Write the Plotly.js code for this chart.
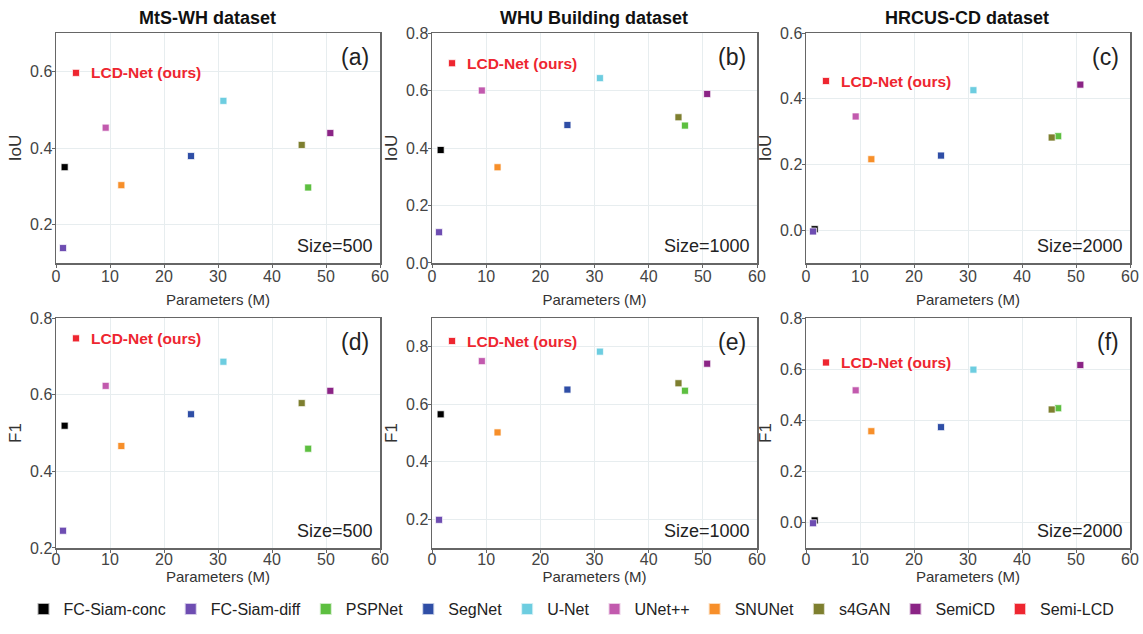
<!DOCTYPE html>
<html>
<head>
<meta charset="utf-8">
<script src="https://cdn.plot.ly/plotly-3.0.1.min.js"></script>
<style>html,body{margin:0;padding:0;background:#fff;}#chart{width:1143px;height:634px;}</style>
</head>
<body>
<div id="chart"></div>
<script>
// ---- data ----
const models = ['FC-Siam-conc','FC-Siam-diff','PSPNet','SegNet','U-Net','UNet++','SNUNet','s4GAN','SemiCD','Semi-LCD'];
const colors = ['#000000','#6e4db2','#5dbf40','#2f4ea6','#6dcde0','#c25aae','#f78f2a','#7e7f2f','#8b2486','#ee2630'];
const params = [1.6, 1.3, 46.7, 25.0, 31.0, 9.2, 12.1, 45.5, 50.8, 3.7];
const iouMtS   = [0.350, 0.139, 0.297, 0.379, 0.523, 0.453, 0.303, 0.408, 0.439, 0.596];
const iouWHU   = [0.393, 0.107, 0.478, 0.480, 0.643, 0.600, 0.333, 0.507, 0.588, 0.695];
const iouHRCUS = [0.003, -0.004, 0.286, 0.227, 0.426, 0.346, 0.216, 0.282, 0.443, 0.454];
const f1MtS    = [0.519, 0.245, 0.459, 0.549, 0.686, 0.623, 0.466, 0.578, 0.610, 0.747];
const f1WHU    = [0.565, 0.198, 0.647, 0.651, 0.783, 0.750, 0.502, 0.673, 0.741, 0.820];
const f1HRCUS  = [0.008, -0.003, 0.447, 0.373, 0.598, 0.517, 0.357, 0.442, 0.616, 0.626];
const datasets = ['MtS-WH dataset','WHU Building dataset','HRCUS-CD dataset'];
const panelLabels = ['(a)','(b)','(c)','(d)','(e)','(f)'];
const sizeLabels = ['Size=500','Size=1000','Size=2000','Size=500','Size=1000','Size=2000'];
const metricNames = ['IoU','IoU','IoU','F1','F1','F1'];
const oursLabel = 'LCD-Net (ours)';
const xTitle = 'Parameters (M)';
const panelValues = [iouMtS, iouWHU, iouHRCUS, f1MtS, f1WHU, f1HRCUS];

// ---- layout geometry ----
const W = 1143, H = 634;
const FONT = 'Liberation Sans, Arial, sans-serif';
const colPx = [[56,380],[432,757],[806,1130]];
const rowPx = [[33,263],[318,548]];
const yRanges = [[0.1,0.7],[-0.0001,0.8001],[-0.1,0.6001],[0.1999,0.8001],[0.1,0.9],[-0.1,0.8001]];
const titleCx = [207, 594, 967];

const data = [];
const layout = {
  width: W, height: H,
  margin: {l:0, r:0, t:0, b:0, autoexpand:false},
  paper_bgcolor: '#ffffff', plot_bgcolor: '#ffffff',
  font: {family: FONT, color: '#333'},
  showlegend: true,
  legend: {orientation:'h', x:0.5, xanchor:'center', y:1-609/634, yanchor:'middle',
           itemsizing:'constant', font:{size:16, color:'#222', family:FONT}, tracegroupgap:0},
  annotations: []
};

for (let p = 0; p < 6; p++) {
  const r = Math.floor(p/3), c = p % 3;
  const sfx = p === 0 ? '' : String(p+1);
  const xa = 'x' + sfx, ya = 'y' + sfx;
  const common = {
    showgrid: true, gridcolor: '#e7edef', gridwidth: 1, automargin: true,
    zeroline: false, showline: true, linecolor: '#666666', linewidth: 1.5, mirror: true,
    ticks: 'outside', ticklen: 3, tickcolor: '#666666', tickwidth: 1,
    tickfont: {size: 16, color: '#444', family: FONT}
  };
  layout['xaxis' + sfx] = Object.assign({}, common, {
    domain: [colPx[c][0]/W, colPx[c][1]/W], anchor: ya,
    range: [0, 60], dtick: 10, tick0: 0,
    ticklabelstandoff: r === 0 ? -5 : -7,
    title: {text: xTitle, font: {size: 15, color: '#333', family: FONT}, standoff: r === 0 ? 11 : 3}
  });
  layout['yaxis' + sfx] = Object.assign({}, common, {
    domain: [1 - rowPx[r][1]/H, 1 - rowPx[r][0]/H], anchor: xa,
    range: yRanges[p], dtick: 0.2, tick0: 0, tickformat: '.1f',
    ticklabelstandoff: -4,
    title: {text: metricNames[p], font: {size: 17, color: '#333', family: FONT}, standoff: 4}
  });

  const vals = panelValues[p];
  for (let m = 0; m < models.length; m++) {
    data.push({
      type: 'scatter', mode: 'markers',
      x: [params[m]], y: [vals[m]],
      xaxis: xa, yaxis: ya,
      name: models[m], legendgroup: models[m], showlegend: p === 0,
      marker: {symbol: 'square', size: 7, color: colors[m], line: {color: 'rgba(255,255,255,0.7)', width: 1}},
      hoverinfo: 'name+x+y'
    });
  }
  const li = models.length - 1;
  layout.annotations.push({
    xref: xa, yref: ya, x: params[li], y: vals[li], text: '<b>' + oursLabel + '</b>',
    showarrow: false, xanchor: 'left', yanchor: 'middle', xshift: 13,
    font: {size: 15.5, color: colors[li], family: FONT}
  });
  layout.annotations.push({
    xref: xa + ' domain', yref: ya + ' domain', x: 1, y: 1, text: panelLabels[p],
    showarrow: false, xanchor: 'right', yanchor: 'top', xshift: -9, yshift: -9,
    font: {size: 23, color: '#222', family: FONT}
  });
  layout.annotations.push({
    xref: xa + ' domain', yref: ya + ' domain', x: 1, y: 0, text: sizeLabels[p],
    showarrow: false, xanchor: 'right', yanchor: 'bottom', xshift: -5, yshift: 5,
    font: {size: 18, color: '#222', family: FONT}
  });
  if (r === 0) {
    layout.annotations.push({
      xref: 'paper', yref: 'paper', x: titleCx[c]/W, y: 1 - 18/H, text: '<b>' + datasets[c] + '</b>',
      showarrow: false, xanchor: 'center', yanchor: 'middle',
      font: {size: 18, color: '#111', family: FONT}
    });
  }
}

Plotly.newPlot('chart', data, layout, {displayModeBar: false, staticPlot: true});
</script>
</body>
</html>
